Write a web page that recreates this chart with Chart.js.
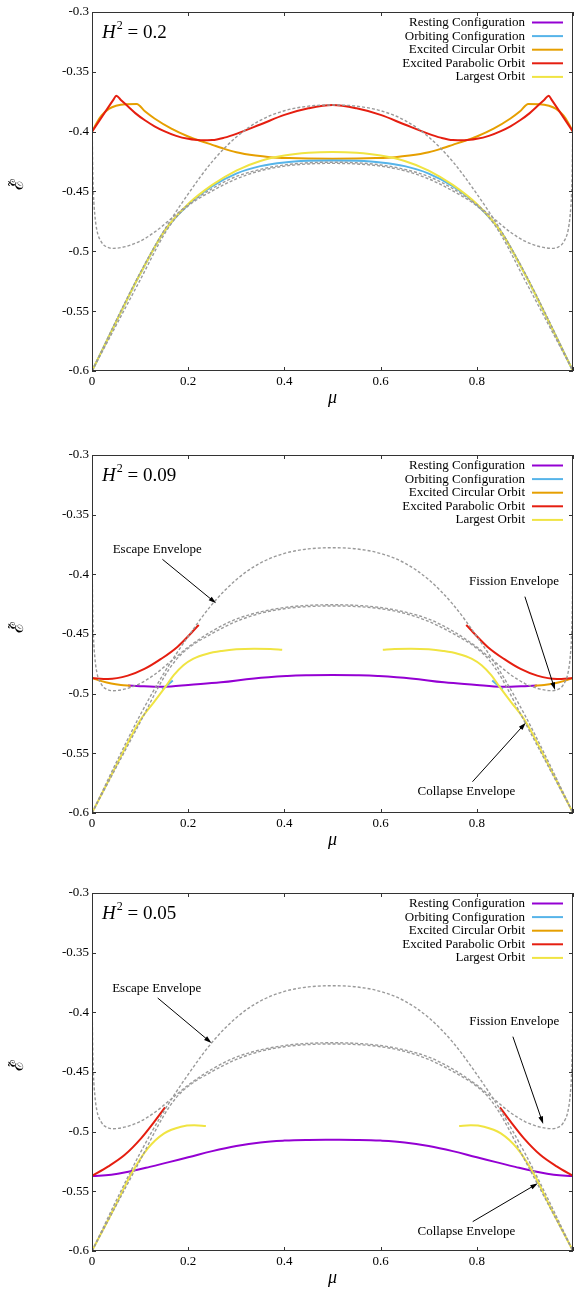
<!DOCTYPE html>
<html>
<head>
<meta charset="utf-8">
<script src="https://cdn.jsdelivr.net/npm/chart.js@4.4.1/dist/chart.umd.min.js"></script>
<style>
  html, body { margin: 0; padding: 0; background: #fff; }
  body { position: relative; width: 576px; height: 1292px; overflow: hidden; }
  canvas { position: absolute; left: 0; }
</style>
</head>
<body>
<canvas id="p1" width="576" height="412" style="top:0px"></canvas>
<canvas id="p2" width="576" height="414" style="top:440px"></canvas>
<canvas id="p3" width="576" height="414" style="top:878px"></canvas>
<script>
// ===================== Data =====================
const seriesNames = ['Resting Configuration', 'Orbiting Configuration', 'Excited Circular Orbit', 'Excited Parabolic Orbit', 'Largest Orbit'];
const seriesColors = ['#9400d3', '#56b4e9', '#e69f00', '#e51e10', '#f0e442'];

// envelopes (same in all three panels)
const escMu = [0, 0.025, 0.05, 0.1, 0.15, 0.2, 0.25, 0.3, 0.35, 0.4, 0.45, 0.5, 0.55, 0.6, 0.65, 0.7, 0.75, 0.8, 0.85, 0.9, 0.95, 0.975, 1];
const escE = [-0.6, -0.579, -0.558, -0.518, -0.4825, -0.452, -0.425, -0.4045, -0.3905, -0.3825, -0.3787, -0.3777, -0.3787, -0.3825, -0.3905, -0.4045, -0.425, -0.452, -0.4825, -0.518, -0.558, -0.579, -0.6];

const colMu = [0, 0.05, 0.1, 0.15, 0.175, 0.2, 0.25, 0.3, 0.35, 0.4, 0.45, 0.5, 0.55, 0.6, 0.65, 0.7, 0.75, 0.8, 0.825, 0.85, 0.9, 0.95, 1];
const colE = [-0.6, -0.562, -0.524, -0.486, -0.4715, -0.462, -0.4495, -0.4395, -0.4327, -0.4288, -0.427, -0.4265, -0.427, -0.4288, -0.4327, -0.4395, -0.4495, -0.462, -0.4715, -0.486, -0.524, -0.562, -0.6];

const fisMu = [0.0005, 0.0015, 0.003, 0.006, 0.01, 0.02, 0.03, 0.044, 0.07, 0.1, 0.13, 0.168, 0.2, 0.25, 0.3, 0.35, 0.4, 0.45, 0.5, 0.55, 0.6, 0.65, 0.7, 0.75, 0.8, 0.832, 0.87, 0.9, 0.93, 0.956, 0.97, 0.98, 0.99, 0.994, 0.997, 0.9985, 0.9995];
const fisE = [-0.40, -0.43, -0.452, -0.47, -0.482, -0.4925, -0.4962, -0.4975, -0.496, -0.4915, -0.484, -0.4715, -0.461, -0.4475, -0.4375, -0.4315, -0.4278, -0.426, -0.4255, -0.426, -0.4278, -0.4315, -0.4375, -0.4475, -0.461, -0.4715, -0.484, -0.4915, -0.496, -0.4975, -0.4962, -0.4925, -0.482, -0.47, -0.452, -0.43, -0.40];

// H^2 = 0.2
const p1RedMu = [0, 0.045, 0.0504, 0.06, 0.075, 0.09, 0.11, 0.13, 0.15, 0.175, 0.2, 0.225, 0.25, 0.275, 0.3, 0.35, 0.4, 0.45, 0.5, 0.55, 0.6, 0.65, 0.7, 0.725, 0.75, 0.775, 0.8, 0.825, 0.85, 0.87, 0.89, 0.91, 0.925, 0.94, 0.9496, 0.955, 1];
const p1RedE = [-0.4, -0.373, -0.3699, -0.3735, -0.379, -0.3845, -0.3905, -0.3955, -0.3995, -0.4035, -0.406, -0.4072, -0.407, -0.405, -0.4018, -0.394, -0.386, -0.3805, -0.3777, -0.3805, -0.386, -0.394, -0.4018, -0.405, -0.407, -0.4072, -0.406, -0.4035, -0.3995, -0.3955, -0.3905, -0.3845, -0.379, -0.3735, -0.3699, -0.373, -0.4];
const p1OrgMu = [0, 0.01, 0.02, 0.035, 0.05, 0.07, 0.093, 0.11, 0.13, 0.165, 0.2, 0.226, 0.25, 0.27, 0.3, 0.34, 0.37, 0.41, 0.45, 0.5, 0.55, 0.59, 0.63, 0.66, 0.7, 0.73, 0.75, 0.774, 0.8, 0.835, 0.87, 0.89, 0.907, 0.93, 0.95, 0.965, 0.98, 0.99, 1];
const p1OrgE = [-0.4, -0.3925, -0.3865, -0.381, -0.3783, -0.377, -0.3769, -0.383, -0.389, -0.3975, -0.404, -0.4078, -0.411, -0.4137, -0.4172, -0.42, -0.4213, -0.4221, -0.4225, -0.4226, -0.4225, -0.4221, -0.4213, -0.42, -0.4172, -0.4137, -0.411, -0.4078, -0.404, -0.3975, -0.389, -0.383, -0.3769, -0.377, -0.3783, -0.381, -0.3865, -0.3925, -0.4];
const p1Mu = [0, 0.05, 0.1, 0.15, 0.2, 0.25, 0.3, 0.35, 0.4, 0.45, 0.5, 0.55, 0.6, 0.65, 0.7, 0.75, 0.8, 0.85, 0.9, 0.95, 1];
const p1YelE = [-0.6, -0.559, -0.519, -0.4835, -0.4605, -0.4445, -0.4325, -0.4245, -0.42, -0.4177, -0.417, -0.4177, -0.42, -0.4245, -0.4325, -0.4445, -0.4605, -0.4835, -0.519, -0.559, -0.6];
const p1BluE = [-0.6, -0.559, -0.519, -0.4835, -0.461, -0.4455, -0.435, -0.4288, -0.4257, -0.4244, -0.424, -0.4244, -0.4257, -0.4288, -0.435, -0.4455, -0.461, -0.4835, -0.519, -0.559, -0.6];

// H^2 = 0.09
const p2PurMu = [0.075, 0.1, 0.13, 0.164, 0.2, 0.268, 0.337, 0.406, 0.45, 0.5, 0.55, 0.594, 0.663, 0.732, 0.8, 0.836, 0.87, 0.9, 0.925];
const p2PurE = [-0.4932, -0.4937, -0.4941, -0.4939, -0.4927, -0.4905, -0.4872, -0.4852, -0.4846, -0.4844, -0.4846, -0.4852, -0.4872, -0.4905, -0.4927, -0.4939, -0.4941, -0.4937, -0.4932];
const p2OrgMu = [0, 0.02, 0.04, 0.06, 0.08, 0.5, 0.92, 0.94, 0.96, 0.98, 1];
const p2OrgE = [-0.4869, -0.4895, -0.4915, -0.4927, -0.4933, null, -0.4933, -0.4927, -0.4915, -0.4895, -0.4869];
const p2RedMu = [0, 0.0331, 0.0745, 0.109, 0.1435, 0.178, 0.222, 0.5, 0.778, 0.822, 0.8565, 0.891, 0.9255, 0.9669, 1];
const p2RedE = [-0.4869, -0.4877, -0.4849, -0.4793, -0.4709, -0.4606, -0.4425, null, -0.4425, -0.4606, -0.4709, -0.4793, -0.4849, -0.4877, -0.4869];
const p2YelMu = [0, 0.05, 0.1, 0.13, 0.154, 0.17, 0.19, 0.21, 0.24, 0.27, 0.3, 0.337, 0.371, 0.3954, 0.5, 0.6046, 0.629, 0.663, 0.7, 0.73, 0.76, 0.79, 0.81, 0.83, 0.846, 0.87, 0.9, 0.95, 1];
const p2YelE = [-0.6, -0.5605, -0.5225, -0.5065, -0.4935, -0.4845, -0.4762, -0.4708, -0.4665, -0.4642, -0.4628, -0.4623, -0.4626, -0.4632, null, -0.4632, -0.4626, -0.4623, -0.4628, -0.4642, -0.4665, -0.4708, -0.4762, -0.4845, -0.4935, -0.5065, -0.5225, -0.5605, -0.6];
const p2BluMu = [0.146, 0.157, 0.168, 0.5, 0.832, 0.843, 0.854];
const p2BluE = [-0.4965, -0.4928, -0.489, null, -0.489, -0.4928, -0.4965];

// H^2 = 0.05
const p3PurMu = [0, 0.04, 0.08, 0.12, 0.16, 0.2, 0.25, 0.3, 0.35, 0.4, 0.45, 0.5, 0.55, 0.6, 0.65, 0.7, 0.75, 0.8, 0.84, 0.88, 0.92, 0.96, 1];
const p3PurE = [-0.5371, -0.5362, -0.5332, -0.5295, -0.5255, -0.5215, -0.5163, -0.512, -0.509, -0.5075, -0.5069, -0.5068, -0.5069, -0.5075, -0.509, -0.512, -0.5163, -0.5215, -0.5255, -0.5295, -0.5332, -0.5362, -0.5371];
const p3RedMu = [0, 0.0331, 0.0676, 0.102, 0.1297, 0.1518, 0.5, 0.8482, 0.8703, 0.898, 0.9324, 0.9669, 1];
const p3RedE = [-0.5371, -0.5293, -0.5196, -0.5056, -0.4916, -0.4796, null, -0.4796, -0.4916, -0.5056, -0.5196, -0.5293, -0.5371];
const p3YelMu = [0, 0.05, 0.08, 0.116, 0.15, 0.185, 0.2125, 0.2367, 0.5, 0.7633, 0.7875, 0.815, 0.85, 0.884, 0.92, 0.95, 1];
const p3YelE = [-0.6, -0.561, -0.5365, -0.514, -0.5014, -0.4958, -0.4947, -0.4953, null, -0.4953, -0.4947, -0.4958, -0.5014, -0.514, -0.5365, -0.561, -0.6];

// ===================== Helpers =====================
const FONT = "'Liberation Serif', 'Times New Roman', serif";
const fmt = v => String(parseFloat(Number(v).toFixed(2)));
const pts = (mu, e) => mu.map((m, i) => ({ x: m, y: e[i] }));

function curve(mu, e, color, smooth) {
  return {
    data: pts(mu, e), borderColor: color, borderWidth: 2, pointRadius: 0,
    cubicInterpolationMode: smooth ? 'default' : 'monotone', tension: smooth ? 0.4 : 0,
    spanGaps: false, fill: false
  };
}
function envelope(mu, e) {
  return {
    data: pts(mu, e), borderColor: '#9a9a9a', borderWidth: 1.4, borderDash: [3, 2],
    pointRadius: 0, cubicInterpolationMode: 'monotone', fill: false
  };
}

// labels, legend, frame and annotations drawn on top of the chart
const decorInfo = {};
const decor = {
  id: 'decor',
  afterDatasetsDraw(chart) {
    const info = decorInfo[chart.canvas.id];
    const { ctx, chartArea: a, scales: { x, y } } = chart;
    ctx.save();

    // frame with inward ticks
    ctx.strokeStyle = '#333';
    ctx.lineWidth = 1;
    ctx.strokeRect(a.left + 0.5, a.top + 0.5, a.right - a.left - 1, a.bottom - a.top - 1);
    ctx.beginPath();
    x.ticks.forEach(t => {
      const px = Math.round(x.getPixelForValue(t.value)) + 0.5;
      ctx.moveTo(px, a.bottom); ctx.lineTo(px, a.bottom - 4);
      ctx.moveTo(px, a.top); ctx.lineTo(px, a.top + 4);
    });
    y.ticks.forEach(t => {
      const py = Math.round(y.getPixelForValue(t.value)) + 0.5;
      ctx.moveTo(a.left, py); ctx.lineTo(a.left + 4, py);
      ctx.moveTo(a.right, py); ctx.lineTo(a.right - 4, py);
    });
    ctx.stroke();

    // y axis label (script E with tilde, rotated)
    ctx.save();
    ctx.translate(18, (a.top + a.bottom) / 2 - 7);
    ctx.rotate(-Math.PI / 2);
    ctx.textAlign = 'center';
    ctx.textBaseline = 'middle';
    ctx.fillStyle = '#000';
    ctx.font = "18px 'DejaVu Serif', serif";
    ctx.fillText('ℰ', 0, 0);
    ctx.font = "14px 'DejaVu Serif', serif";
    ctx.fillText('˜', 1, -2);
    ctx.restore();

    // legend
    ctx.font = `13px ${FONT}`;
    ctx.textAlign = 'right';
    ctx.textBaseline = 'middle';
    seriesNames.forEach((name, i) => {
      const ly = a.top + 10.5 + i * 13.6;
      ctx.fillStyle = '#000';
      ctx.fillText(name, a.right - 48, ly);
      ctx.strokeStyle = seriesColors[i];
      ctx.lineWidth = 2;
      ctx.beginPath(); ctx.moveTo(a.right - 41, ly); ctx.lineTo(a.right - 10, ly); ctx.stroke();
    });

    // H^2 label
    const bx = a.left + 10, by = a.top + 26;
    ctx.textAlign = 'left';
    ctx.textBaseline = 'alphabetic';
    ctx.fillStyle = '#000';
    ctx.font = `italic 19px ${FONT}`;
    ctx.fillText('H', bx, by);
    let w = ctx.measureText('H').width + 1;
    ctx.font = `12px ${FONT}`;
    ctx.fillText('2', bx + w, by - 9);
    w += ctx.measureText('2').width;
    ctx.font = `19px ${FONT}`;
    ctx.fillText(' = ' + info.h2, bx + w, by);

    // envelope annotations
    ctx.font = `13px ${FONT}`;
    ctx.textAlign = 'center';
    ctx.textBaseline = 'middle';
    info.notes.forEach(n => {
      ctx.fillStyle = '#000';
      ctx.fillText(n.text, x.getPixelForValue(n.at[0]), y.getPixelForValue(n.at[1]));
      const x1 = x.getPixelForValue(n.from[0]), y1 = y.getPixelForValue(n.from[1]);
      const x2 = x.getPixelForValue(n.to[0]), y2 = y.getPixelForValue(n.to[1]);
      const ang = Math.atan2(y2 - y1, x2 - x1);
      ctx.strokeStyle = '#000';
      ctx.lineWidth = 1;
      ctx.beginPath(); ctx.moveTo(x1, y1); ctx.lineTo(x2 - 5 * Math.cos(ang), y2 - 5 * Math.sin(ang)); ctx.stroke();
      ctx.beginPath();
      ctx.moveTo(x2, y2);
      ctx.lineTo(x2 - 8 * Math.cos(ang - 0.3), y2 - 8 * Math.sin(ang - 0.3));
      ctx.lineTo(x2 - 8 * Math.cos(ang + 0.3), y2 - 8 * Math.sin(ang + 0.3));
      ctx.closePath();
      ctx.fill();
    });
    ctx.restore();
  }
};

// ===================== Panels =====================
function makePanel(id, h2, padTop, curves, notes) {
  decorInfo[id] = { h2, notes };
  new Chart(document.getElementById(id), {
    type: 'line',
    data: {
      datasets: [envelope(escMu, escE), envelope(fisMu, fisE), envelope(colMu, colE), ...curves]
    },
    options: {
      responsive: false,
      animation: false,
      layout: { padding: { top: padTop, right: 0, bottom: 0, left: 0 } },
      scales: {
        x: {
          type: 'linear', min: 0, max: 1,
          afterFit: s => { s.height = 41; },
          grid: { display: false, drawTicks: false },
          border: { display: false },
          ticks: {
            stepSize: 0.2, autoSkip: false, maxRotation: 0, padding: 3, color: '#000',
            font: { family: FONT, size: 13 },
            callback: v => (v > 0.99 ? '' : fmt(v))
          },
          title: {
            display: true, text: 'μ', color: '#000',
            font: { family: FONT, size: 18, style: 'italic' },
            padding: { top: 0, bottom: 3 }
          }
        },
        y: {
          type: 'linear', min: -0.6, max: -0.3,
          afterFit: s => { s.width = 92; },
          grid: { display: false, drawTicks: false },
          border: { display: false },
          ticks: {
            stepSize: 0.05, autoSkip: false, padding: 3, color: '#000',
            font: { family: FONT, size: 13 },
            callback: v => fmt(v)
          }
        }
      },
      plugins: { legend: { display: false }, tooltip: { enabled: false } }
    },
    plugins: [decor]
  });
}

makePanel('p1', '0.2', 12, [
  curve(p1Mu, p1YelE, seriesColors[4]),
  curve(p1Mu, p1BluE, seriesColors[1]),
  curve(p1RedMu, p1RedE, seriesColors[3]),
  curve(p1OrgMu, p1OrgE, seriesColors[2])
], []);

makePanel('p2', '0.09', 15, [
  curve(p2YelMu, p2YelE, seriesColors[4]),
  curve(p2BluMu, p2BluE, seriesColors[1]),
  curve(p2RedMu, p2RedE, seriesColors[3]),
  curve(p2OrgMu, p2OrgE, seriesColors[2]),
  curve(p2PurMu, p2PurE, seriesColors[0], true)
], [
  { text: 'Escape Envelope', at: [0.1356, -0.3796], from: [0.1464, -0.3874], to: [0.258, -0.4243] },
  { text: 'Fission Envelope', at: [0.8775, -0.4064], from: [0.9, -0.4187], to: [0.9627, -0.4969] },
  { text: 'Collapse Envelope', at: [0.7785, -0.5824], from: [0.791, -0.5738], to: [0.9019, -0.5243] }
]);

makePanel('p3', '0.05', 15, [
  curve(p3YelMu, p3YelE, seriesColors[4]),
  curve(p3RedMu, p3RedE, seriesColors[3]),
  curve(p3PurMu, p3PurE, seriesColors[0], true)
], [
  { text: 'Escape Envelope', at: [0.1346, -0.3804], from: [0.1366, -0.388], to: [0.2484, -0.4257] },
  { text: 'Fission Envelope', at: [0.878, -0.4078], from: [0.875, -0.4204], to: [0.938, -0.4936] },
  { text: 'Collapse Envelope', at: [0.7785, -0.5838], from: [0.7915, -0.5754], to: [0.927, -0.5433] }
]);
</script>
</body>
</html>
